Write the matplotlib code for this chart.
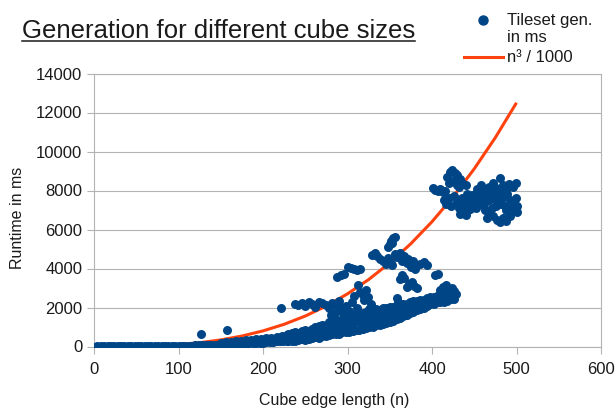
import matplotlib.pyplot as plt
from matplotlib.lines import Line2D

plt.rcParams['font.family'] = ['Liberation Sans', 'DejaVu Sans']

low_n = [1, 4, 8, 12, 16, 20, 24, 28, 32, 36, 40, 44, 48, 52, 56, 60, 64, 68, 72, 76,
         80, 84, 88, 92, 96, 100, 104, 108, 112, 116, 120, 124, 128, 132, 136, 140, 144,
         148, 152, 156, 160, 164, 168, 172, 176, 180, 184, 188, 192, 196, 200, 204, 208,
         212, 216, 220, 224, 228]
low_ms = [0, 2, 3, 5, 4, 6, 8, 7, 10, 12, 11, 14, 16, 15, 18, 20, 22, 21, 25, 28,
          26, 30, 33, 31, 36, 40, 38, 45, 50, 48, 55, 62, 60, 70, 78, 75, 88,
          95, 92, 105, 115, 110, 125, 140, 135, 150, 165, 160, 180, 200, 195, 220, 240,
          235, 260, 280, 275, 300]
low2_n = [150, 156, 162, 168, 174, 180, 186, 192, 198, 204, 210, 216, 222, 228]
low2_ms = [190, 230, 235, 270, 285, 320, 325, 370, 380, 430, 445, 500, 520, 580]
outlier_n = [127, 157, 221]
outlier_ms = [660, 865, 1960]

band_n = [230, 234, 238, 242, 246, 250, 254, 258, 262, 266, 270, 274, 278, 282, 286, 290,
          294, 298, 302, 306, 310, 314, 318, 322, 326, 330, 334, 338, 342, 346, 350, 354,
          358, 362, 366, 370, 374, 378, 382, 386, 390, 394, 398, 402, 406, 410, 414, 418,
          422, 426]
band_lo = [260, 300, 280, 330, 360, 340, 400, 430, 470, 450, 520, 560, 590, 620, 660, 640,
           720, 760, 740, 800, 850, 830, 900, 960, 1000, 980, 1080, 1120, 1150, 1230, 1260,
           1320, 1400, 1480, 1560, 1600, 1700, 1780, 1850, 1920, 2000, 2100, 2180, 2200,
           2260, 2300, 2280, 2350, 2420, 2450]
band_hi = [620, 680, 720, 700, 800, 850, 820, 920, 980, 1050, 1100, 1080, 1250, 1300, 1350,
           1280, 1420, 1500, 1460, 1580, 1650, 1600, 1720, 1750, 1820, 1780, 1900, 1880,
           1950, 2000, 2050, 2020, 2120, 2150, 2200, 2180, 2280, 2320, 2350, 2400, 2380,
           2480, 2550, 2520, 2600, 2650, 2700, 2750, 2800, 2850]
bandm_n = [232, 236, 240, 244, 248, 252, 256, 260, 264, 268, 272, 276, 280, 284, 288, 292,
           296, 300, 304, 308, 312, 316, 320, 324, 328, 332, 336, 340, 344, 348, 352, 356,
           360, 364, 368, 372, 376, 380, 384, 388, 392, 396, 400, 404, 408, 412, 416, 420,
           424, 428]
band_mid = [450, 500, 520, 580, 560, 640, 700, 680, 760, 820, 800, 900, 950, 1000, 980,
            1080, 1150, 1120, 1200, 1250, 1300, 1280, 1350, 1400, 1380, 1480, 1500, 1550,
            1600, 1650, 1700, 1750, 1820, 1850, 1900, 1950, 2000, 2100, 2150, 2200, 2250,
            2350, 2380, 2400, 2450, 2500, 2520, 2600, 2650, 2700]

upper_n = [238, 242, 246, 250, 254, 258, 262, 266, 270, 274, 278, 282, 286, 290, 294, 298,
           281, 285, 292, 296]
upper_ms = [2200, 2150, 2250, 2100, 2280, 2180, 2050, 2300, 2220, 2120, 2000, 2250, 2150,
            2350, 1950, 2100, 1600, 1700, 1800, 1850]
mid_n = [302, 305, 308, 311, 313, 315, 318, 320, 322, 324, 326, 328, 358, 360]
mid_ms = [1800, 2300, 2600, 2000, 3150, 2800, 2640, 2400, 2900, 2550, 1900, 2200, 2490, 2300]

ca_n = [288, 292, 296, 300, 304, 308, 311, 315]
ca_ms = [3580, 3680, 3720, 4100, 4050, 3950, 3900, 3980]
cb_n = [329, 332, 335, 338, 342, 345, 348, 351, 353, 348, 350, 352, 354, 356, 353]
cb_ms = [4700, 4800, 4650, 4500, 4400, 4250, 4550, 4300, 4200, 5100, 5250, 5400, 5550,
         5620, 5300]
cc_n = [356, 359, 362, 364, 367, 370, 372, 375, 378, 380, 382, 386, 390, 394]
cc_ms = [4750, 4600, 4800, 4400, 4650, 4300, 4500, 4100, 4400, 3950, 4200, 4250, 4330, 4180]
cd_n = [362, 364, 367, 370, 373, 376, 379, 382, 404, 407, 409, 413, 417, 420, 424]
cd_ms = [3450, 3650, 3500, 3050, 3200, 3300, 3100, 3000, 3650, 3700, 2900, 3050, 3150,
         2950, 3000]

top_n = [418, 421, 424, 427, 430, 433, 436, 440, 425, 429, 432, 420]
top_ms = [8700, 8950, 9050, 8900, 8800, 8600, 8400, 8300, 8500, 8300, 8200, 8400]
left_n = [401, 404, 407, 410, 413, 415]
left_ms = [8150, 8050, 7950, 8100, 7900, 8000]
main_n = [414, 417, 420, 423, 426, 429, 432, 435, 438, 441, 444, 447, 450, 453, 456, 459,
          462, 465, 468, 471, 474, 477, 480, 483, 486, 489, 492, 495, 497, 499, 500, 443,
          447, 452, 458, 463, 470, 476, 482, 488]
main_ms = [7500, 7300, 7600, 7200, 7700, 7400, 7100, 7600, 7300, 7800, 7500, 7200, 7700,
           7400, 7900, 7600, 7300, 7800, 7500, 7100, 7700, 7400, 7900, 7600, 7200, 7800,
           7500, 7100, 7400, 7600, 7200, 7000, 7750, 7100, 7300, 7000, 7900, 7200, 7300,
           7000]
ur_n = [453, 458, 462, 467, 472, 476, 480, 484, 488, 491, 496, 499]
ur_ms = [8100, 8300, 8050, 8200, 8400, 8150, 8640, 8300, 8100, 8350, 8200, 8400]
bot_n = [433, 436, 440, 445, 465, 468, 472, 477, 480, 484, 488, 492, 500]
bot_ms = [6800, 7000, 6750, 7050, 6600, 6750, 6700, 6500, 6400, 6600, 6450, 6700, 6900]

# reference curve
curve_n = [0, 25, 50, 75, 100, 125, 150, 175, 200, 225, 250, 275, 300, 325, 350, 375,
           400, 425, 450, 475, 500]
curve_ms = [0, 1.6, 12.5, 42.2, 100, 195.3, 337.5, 535.9, 800, 1139.1, 1562.5, 2079.7,
            2700, 3432.8, 4287.5, 5273.4, 6400, 7676.6, 9112.5, 10717.2, 12500]

all_n = (low_n + low2_n + outlier_n + band_n + band_n + bandm_n + upper_n + mid_n
         + ca_n + cb_n + cc_n + cd_n + top_n + left_n + main_n + ur_n + bot_n)
all_ms = (low_ms + low2_ms + outlier_ms + band_lo + band_hi + band_mid + upper_ms + mid_ms
          + ca_ms + cb_ms + cc_ms + cd_ms + top_ms + left_ms + main_ms + ur_ms + bot_ms)

BLUE = '#004586'
ORANGE = '#ff420e'
GRID = '#b3b3b3'
TXT = '#1a1a1a'

W, H = 616, 408
fig = plt.figure(figsize=(W / 100, H / 100), dpi=100)


def fx(px):
    return px / W


def fy(py):
    return 1 - py / H


ax = fig.add_axes([fx(94), fy(346.5), fx(601) - fx(94), fy(73.5) - fy(346.5)])

ax.plot(curve_n, curve_ms, color=ORANGE, linewidth=2.2, zorder=2, solid_capstyle='butt')
ax.scatter(all_n, all_ms, s=42, color=BLUE, linewidths=0, zorder=3)

ax.set_xlim(0, 600)
ax.set_ylim(0, 14000)
ax.set_xticks(range(0, 601, 100))
ax.set_yticks(range(0, 14001, 2000))
ax.yaxis.grid(True, color=GRID, linewidth=0.8)
ax.set_axisbelow(True)
for sp in ax.spines.values():
    sp.set_color(GRID)
    sp.set_linewidth(0.8)
ax.tick_params(axis='both', colors=GRID, labelcolor=TXT, labelsize=12, width=0.8)
ax.tick_params(axis='y', length=5, pad=3.5)
ax.tick_params(axis='x', length=5, pad=6)

fig.text(fx(334), fy(405), 'Cube edge length (n)', ha='center', va='baseline',
         fontsize=11.5, color=TXT)
fig.text(fx(18), fy(218), 'Runtime in ms', ha='center', va='center', rotation=90,
         fontsize=11.5, color=TXT)

title = fig.text(fx(22), fy(37.5), 'Generation for different cube sizes', ha='left',
                 va='baseline', fontsize=18.5, color=TXT)
fig.canvas.draw()
bb = title.get_window_extent(fig.canvas.get_renderer())
fig.add_artist(Line2D([bb.x0 / W, bb.x1 / W], [fy(41), fy(41)], color=TXT,
                      linewidth=1.1, transform=fig.transFigure))

# legend
fig.add_artist(Line2D([fx(483)], [fy(20)], marker='o', markersize=6.5, color=BLUE,
                      linestyle='none', transform=fig.transFigure))
fig.add_artist(Line2D([fx(464), fx(503)], [fy(57), fy(57)], color=ORANGE, linewidth=2.2,
                      transform=fig.transFigure))
fig.text(fx(507), fy(20), 'Tileset gen.', ha='left', va='center', fontsize=12, color=TXT)
fig.text(fx(507), fy(38), 'in ms', ha='left', va='center', fontsize=12, color=TXT)
fig.text(fx(507), fy(57), 'n³ / 1000', ha='left', va='center', fontsize=12, color=TXT)

fig.savefig('out.png', dpi=100)
